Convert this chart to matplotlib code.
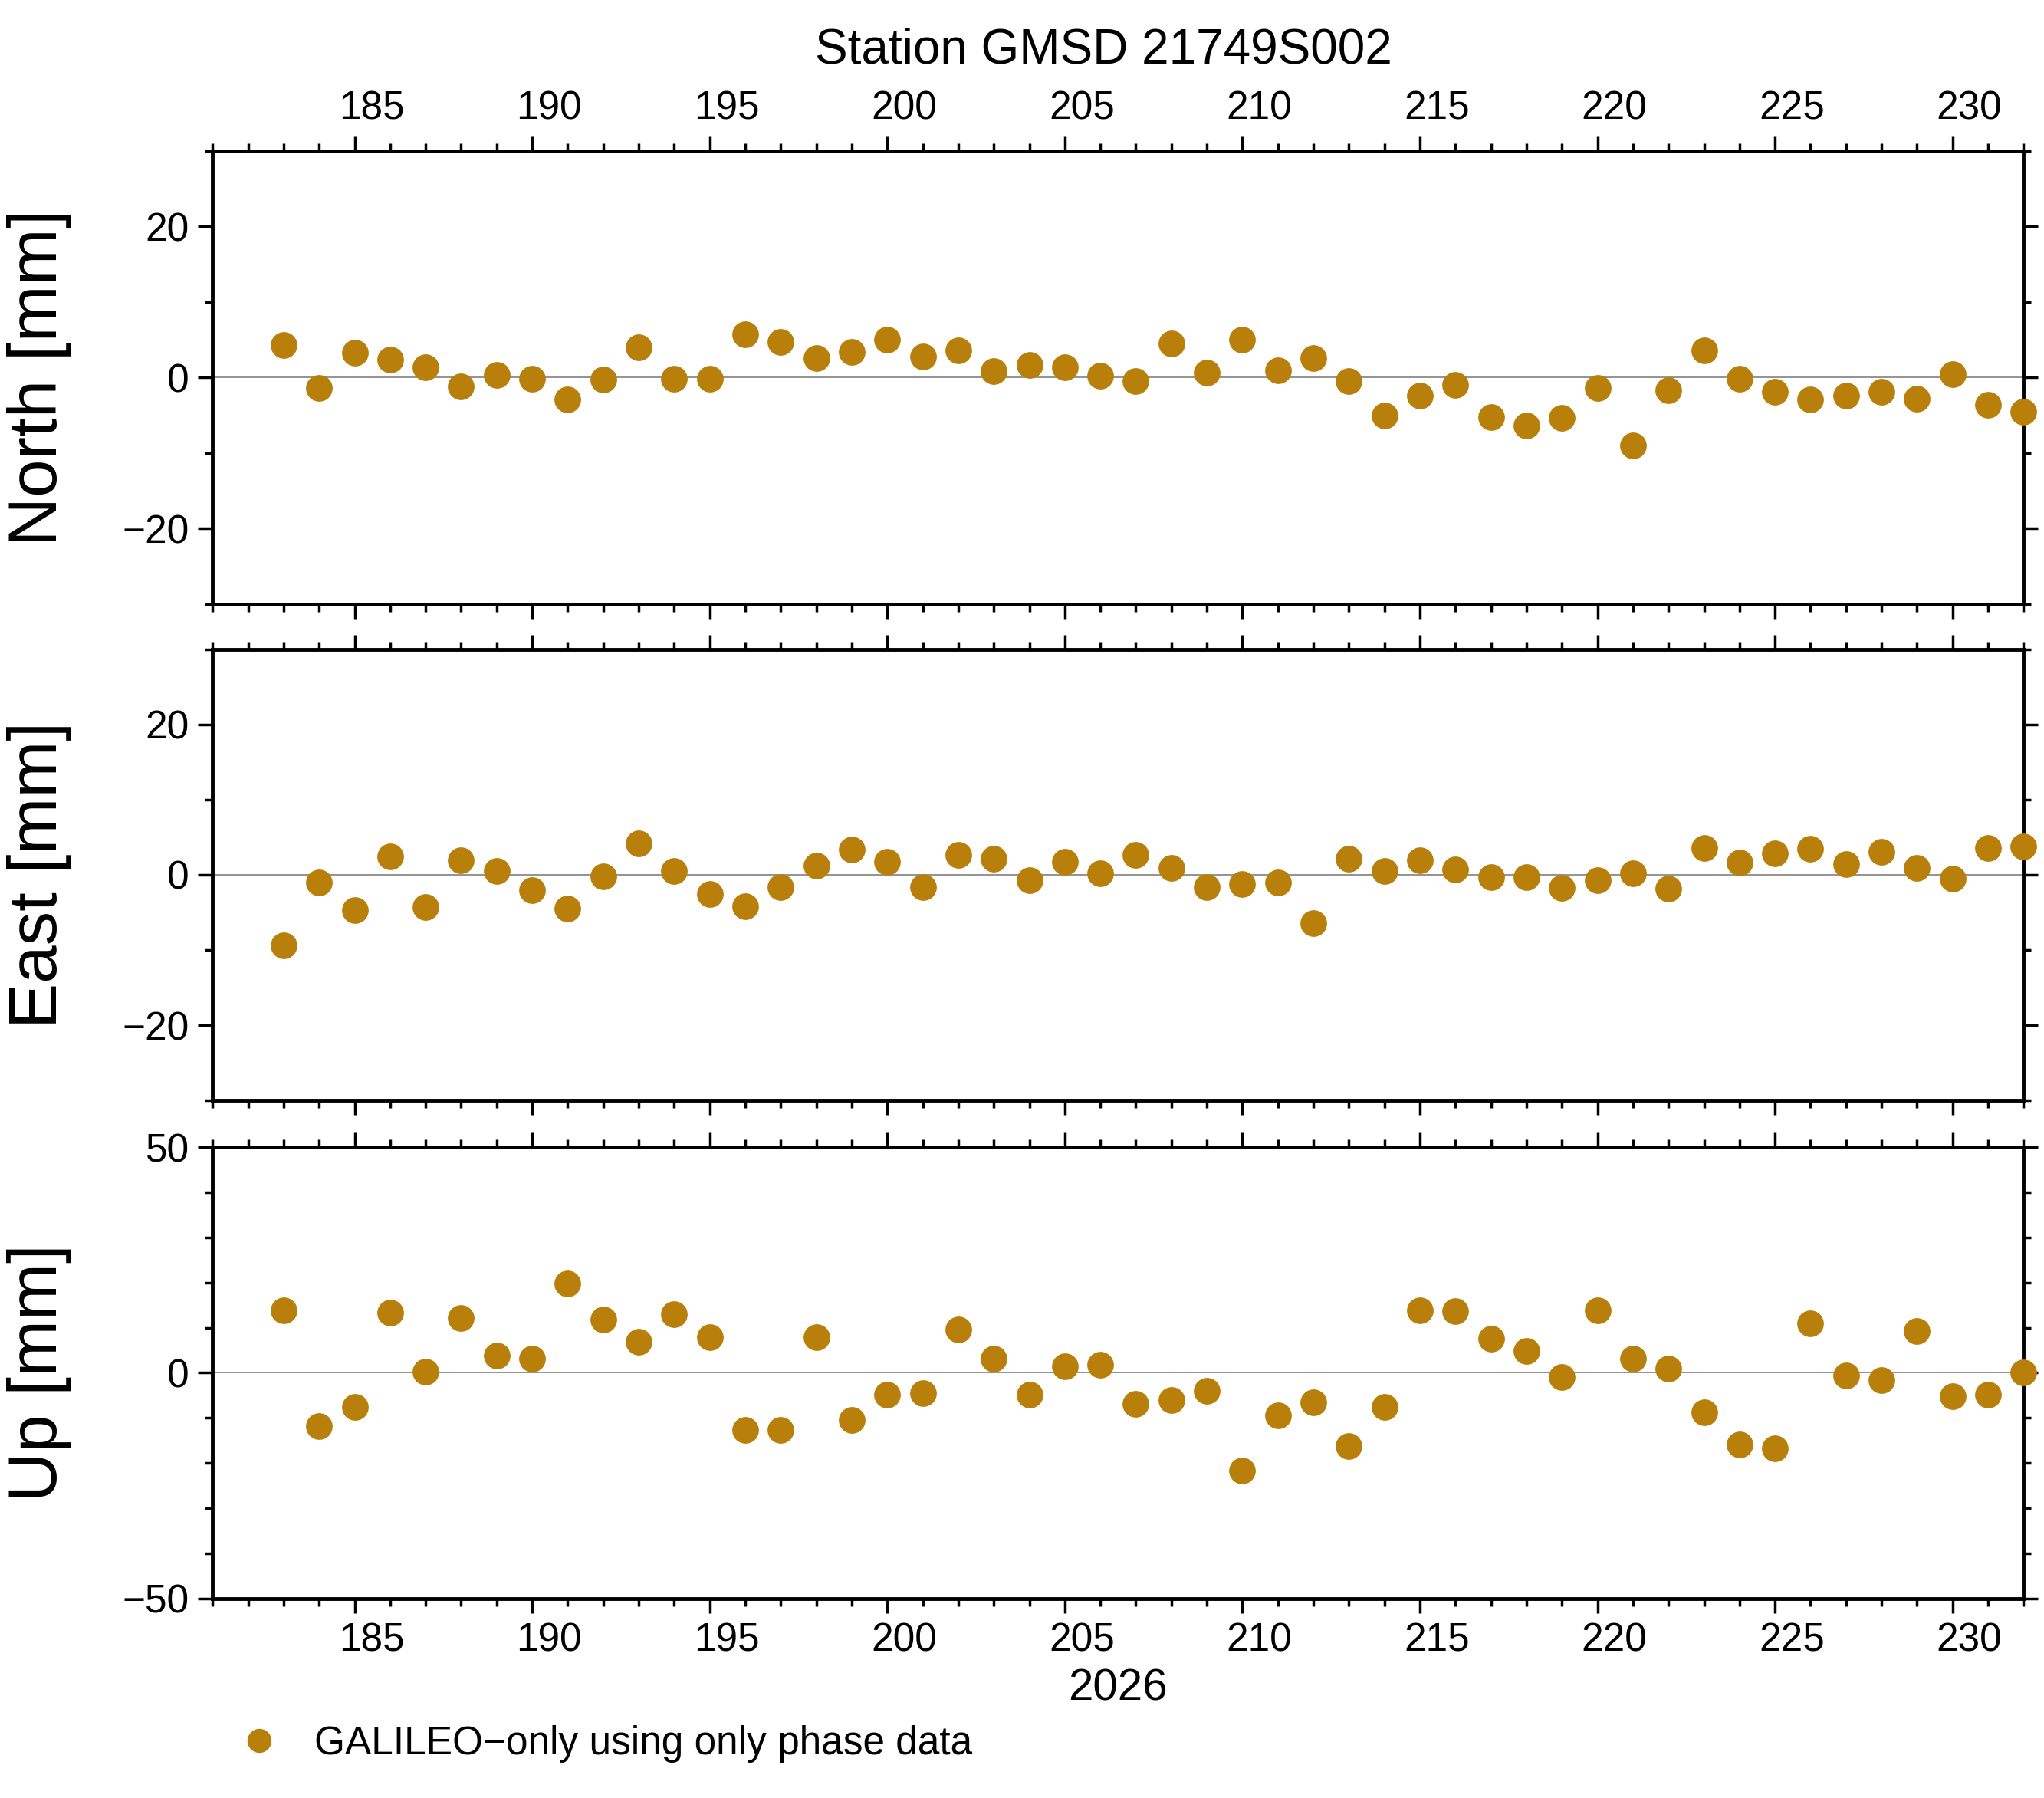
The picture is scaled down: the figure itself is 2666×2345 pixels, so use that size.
import matplotlib
matplotlib.use("Agg")
import matplotlib.pyplot as plt
import matplotlib.transforms as mtransforms
from matplotlib.ticker import MultipleLocator

plt.rcParams['font.family'] = ['Liberation Sans', 'DejaVu Sans']

days = list(range(183, 233))
north = [4.3, -1.4, 3.3, 2.4, 1.4, -1.2, 0.3, -0.2, -2.9, -0.3,
         4.0, -0.2, -0.2, 5.7, 4.7, 2.6, 3.4, 5.0, 2.8, 3.6,
         0.9, 1.7, 1.4, 0.2, -0.5, 4.5, 0.7, 5.0, 1.0, 2.6,
         -0.5, -5.0, -2.4, -1.0, -5.2, -6.4, -5.3, -1.4, -9.0, -1.7,
         3.6, -0.2, -1.9, -2.9, -2.4, -1.9, -2.8, 0.5, -3.6, -4.5]
east = [-9.4, -1.0, -4.7, 2.4, -4.3, 1.9, 0.5, -2.1, -4.5, -0.2,
        4.2, 0.5, -2.6, -4.2, -1.6, 1.2, 3.3, 1.7, -1.6, 2.6,
        2.1, -0.7, 1.7, 0.2, 2.6, 0.9, -1.6, -1.2, -1.0, -6.4,
        2.1, 0.5, 1.9, 0.7, -0.3, -0.3, -1.7, -0.7, 0.2, -1.9,
        3.6, 1.6, 2.8, 3.5, 1.4, 3.0, 0.9, -0.5, 3.6, 3.8]
up = [13.9, -11.8, -7.5, 13.3, 0.3, 12.1, 3.8, 3.2, 19.7, 11.8,
      6.9, 13.0, 7.8, -12.7, -12.7, 7.8, -10.4, -4.9, -4.6, 9.5,
      3.2, -4.9, 1.4, 1.7, -6.9, -6.1, -4.0, -21.7, -9.5, -6.6,
      -16.2, -7.5, 13.9, 13.6, 7.5, 4.9, -0.9, 13.9, 3.2, 0.9,
      -8.7, -15.9, -16.8, 11.0, -0.6, -1.7, 9.2, -5.2, -4.9, 0.0]

color = '#B8800A'
fig = plt.figure(figsize=(26.66, 23.45), dpi=100)

panels = [("North [mm]", north, 30, 20, [0.664, 0.916]),
          ("East [mm]", east, 30, 20, [0.388, 0.639]),
          ("Up [mm]", up, 50, 50, [0.111, 0.362])]

axes = []
for i, (label, vals, lim, major, (b, t)) in enumerate(panels):
    ax = fig.add_axes([0.104, b, 0.886, t - b])
    ax.axhline(0, color='gray', lw=1.2, zorder=1)
    pts, = ax.plot(days, vals, 'o', color=color, ms=24, zorder=3, clip_on=False)
    ax.set_xlim(181, 232)
    ax.set_ylim(-lim, lim)
    ax.xaxis.set_major_locator(MultipleLocator(5))
    ax.xaxis.set_minor_locator(MultipleLocator(1))
    ax.yaxis.set_major_locator(MultipleLocator(major))
    ax.yaxis.set_minor_locator(MultipleLocator(10))
    ax.tick_params(which='both', direction='out', top=True, right=True, width=2.5)
    ax.tick_params(which='major', length=14, labelsize=37, pad=8)
    ax.tick_params(which='minor', length=7)
    ax.tick_params(axis='x', labeltop=(i == 0), labelbottom=(i == 2))
    for s in ax.spines.values():
        s.set_linewidth(3.5)
    ax.set_ylabel(label, fontsize=64, labelpad=20)
    # labels sit half a day right of their ticks
    off = mtransforms.ScaledTranslation(0.22, 0, fig.dpi_scale_trans)
    for lab in ax.get_xticklabels(which='major'):
        lab.set_transform(lab.get_transform() + off)
    axes.append(ax)

for ax in axes:
    ax.yaxis.set_label_coords(-0.078, 0.5)

fig.text(0.54, 0.985, "Station GMSD 21749S002", fontsize=46, ha='center', va='top')
axes[2].set_xlabel("2026", fontsize=42, labelpad=8)
fig.legend([pts], ["GALILEO\u2212only using only phase data"], loc='lower left',
           bbox_to_anchor=(0.09, 0.0), frameon=False, fontsize=37,
           handletextpad=0.4, markerscale=0.9)

fig.savefig("out.png", dpi=100)
